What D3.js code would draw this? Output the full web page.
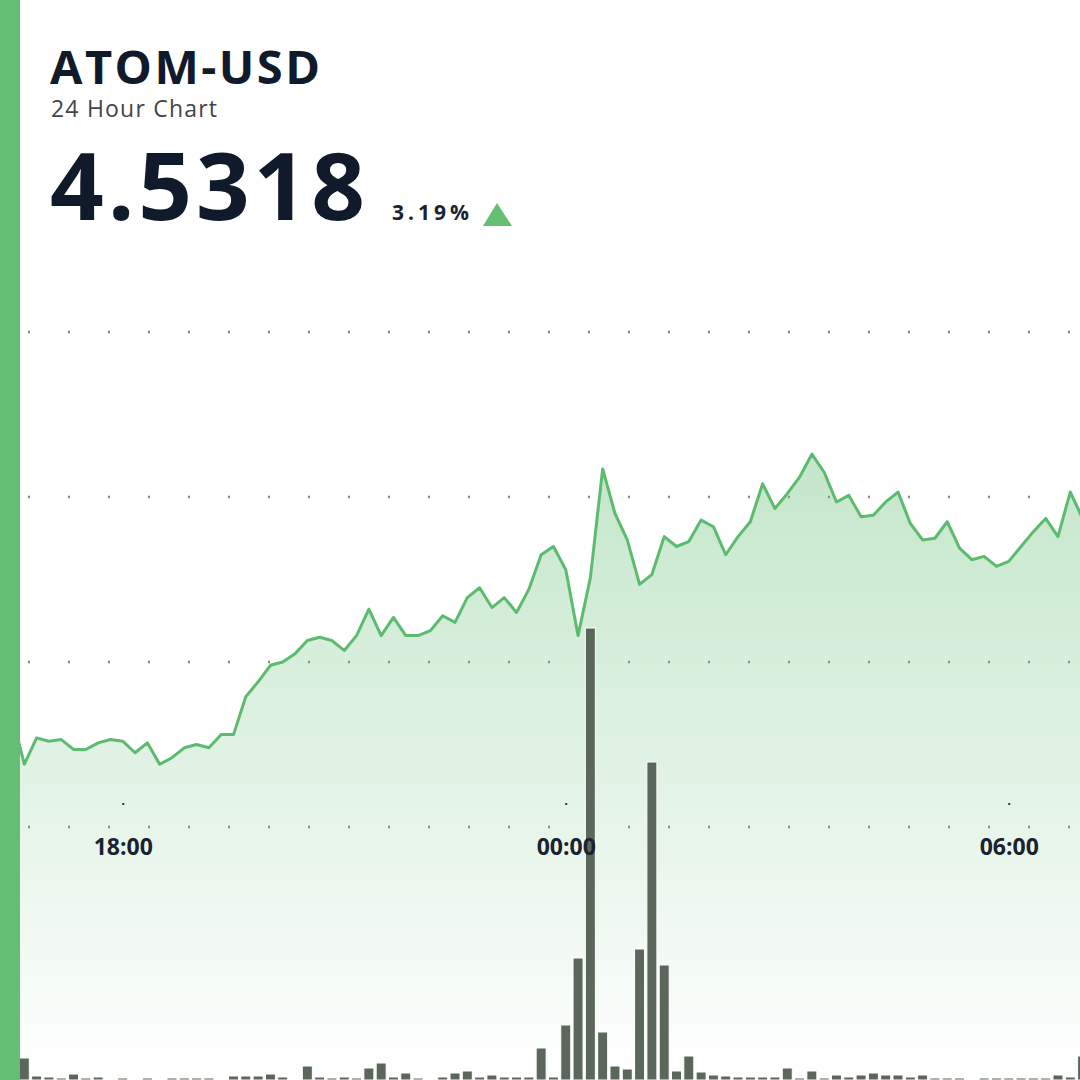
<!DOCTYPE html>
<html><head><meta charset="utf-8">
<script src="https://cdn.jsdelivr.net/npm/d3@7"></script>
<style>body{margin:0;background:#fff;overflow:hidden}svg{display:block}</style>
</head><body>
<svg id="c" width="1080" height="1080"></svg>
<script>
const prices=[4.368,4.338,4.354,4.352,4.353,4.347,4.347,4.351,4.353,4.352,4.345,4.351,4.338,4.342,4.348,4.350,4.348,4.356,4.356,4.379,4.388,4.398,4.400,4.405,4.413,4.415,4.413,4.407,4.416,4.432,4.416,4.427,4.416,4.416,4.419,4.428,4.424,4.439,4.445,4.433,4.439,4.430,4.444,4.465,4.470,4.456,4.416,4.451,4.517,4.490,4.474,4.447,4.453,4.476,4.470,4.473,4.486,4.482,4.465,4.476,4.485,4.508,4.493,4.502,4.512,4.526,4.515,4.497,4.501,4.488,4.489,4.497,4.503,4.484,4.474,4.475,4.485,4.469,4.462,4.464,4.458,4.461,4.470,4.479,4.487,4.476,4.503,4.487];
const volumes=[4,22,4,3,2,6,2,3,1,2,1,2,1,2,2,2,2,1,4,4,4,6,3,1,14,3,2,3,2,12,17,3,7,2,1,3,7,9,3,5,3,3,3,32,3,55,122,452,48,14,11,131,318,115,9,24,8,5,4,3,3,3,3,12,2,9,2,5,3,5,7,5,5,3,5,2,2,2,1,2,2,2,2,2,2,5,3,24,2];
const gridValues=[4.6,4.5,4.4,4.3];
const tickLabels=["18:00","00:00","06:00"];
const symbol="ATOM-USD", subtitle="24 Hour Chart", lastPrice="4.5318", change="3.19%";

const t0=new Date(2024,0,1,16,30);
const times=prices.map((_,i)=>new Date(+t0+i*600000));
const x=d3.scaleTime().domain([new Date(2024,0,1,16,30),new Date(2024,0,2,7,30)]).range([12,1119.5]);
const y=d3.scaleLinear().domain([4.3,4.6]).range([827,332]);
const yv=d3.scaleLinear().domain([0,452]).range([1080,628]);
const svg=d3.select("#c");
const defs=svg.append("defs");
const g=defs.append("linearGradient").attr("id","ag").attr("x1",0).attr("x2",0)
 .attr("gradientUnits","userSpaceOnUse").attr("y1",450).attr("y2",1080);
g.append("stop").attr("offset","0%").attr("stop-color","#62bd74").attr("stop-opacity",0.38);
g.append("stop").attr("offset","100%").attr("stop-color","#62bd74").attr("stop-opacity",0.0);

svg.selectAll(".grid").data(gridValues).join("line")
 .attr("x1",28).attr("x2",1080).attr("y1",d=>y(d)).attr("y2",d=>y(d))
 .attr("stroke","#888").attr("stroke-width",2.5).attr("stroke-dasharray","2,38");

const data=prices.map((p,i)=>({t:times[i],p,v:volumes[i]}));
svg.append("path").datum(data).attr("fill","url(#ag)")
 .attr("d",d3.area().x(d=>x(d.t)).y0(1080).y1(d=>y(d.p)));

svg.selectAll(".bar").data(data.filter(d=>d.v!=null)).join("rect")
 .attr("x",d=>x(d.t)-5).attr("width",10).attr("y",d=>yv(d.v)).attr("height",d=>1080-yv(d.v))
 .attr("fill","#5c675c").attr("stroke","#fff").attr("stroke-width",1);

svg.append("path").datum(data).attr("fill","none").attr("stroke","#5dbb70").attr("stroke-width",3)
 .attr("stroke-linejoin","round").attr("d",d3.line().x(d=>x(d.t)).y(d=>y(d.p)));

const tickTimes=[new Date(2024,0,1,18),new Date(2024,0,2,0),new Date(2024,0,2,6)];
const ax=svg.append("g").attr("transform","translate(0,803)")
 .call(d3.axisBottom(x).tickValues(tickTimes).tickFormat((d,i)=>tickLabels[i]).tickSize(2).tickPadding(34));
ax.select(".domain").remove();
ax.selectAll("line").attr("stroke","#333").attr("stroke-width",2);
ax.selectAll("text").attr("font-family","Open Sans").attr("font-weight","bold").attr("font-size",23).attr("fill","#1a2230");

svg.append("rect").attr("x",0).attr("y",0).attr("width",20).attr("height",1080).attr("fill","#64bf74");

const f="Open Sans";
svg.append("text").attr("x",50).attr("y",84).text(symbol).attr("font-family",f).attr("font-weight","bold").attr("font-size",47).attr("fill","#111a2a").attr("textLength",270);
svg.append("text").attr("x",51).attr("y",117).text(subtitle).attr("font-family",f).attr("font-size",23).attr("fill","#444").attr("textLength",166);
svg.append("text").attr("x",50).attr("y",220).text(lastPrice).attr("font-family",f).attr("font-weight","bold").attr("font-size",94).attr("fill","#111a2a").attr("textLength",315);
svg.append("text").attr("x",392).attr("y",220).text(change).attr("font-family",f).attr("font-weight","bold").attr("font-size",21).attr("fill","#1a2230").attr("textLength",77);
svg.append("path").attr("d","M483,226L497,203L512,226Z").attr("fill","#64bf74");
</script></body></html>
